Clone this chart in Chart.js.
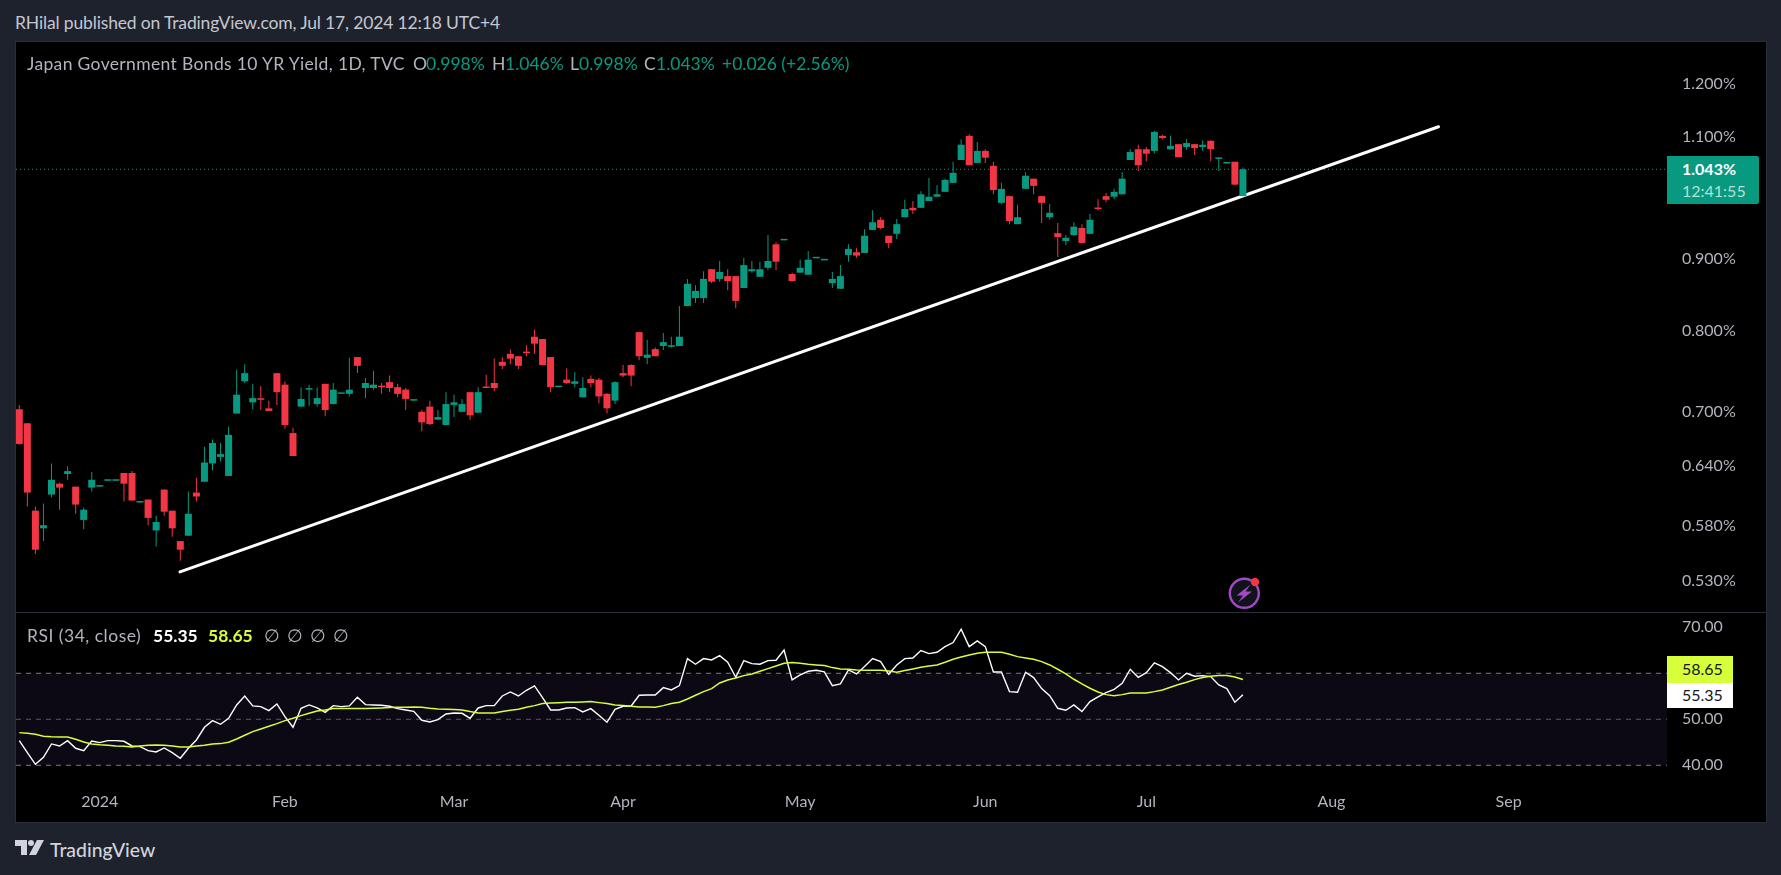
<!DOCTYPE html>
<html>
<head>
<meta charset="utf-8">
<title>Japan Government Bonds 10 YR Yield</title>
<script src="https://cdn.jsdelivr.net/npm/chart.js@4"></script>
<style>
html, body { margin: 0; padding: 0; width: 1781px; height: 875px; overflow: hidden; background: #1e222d; font-family: Lato, sans-serif; }
canvas { position: absolute; display: block; }
#frame { position: absolute; left: 15px; top: 41px; width: 1750px; height: 780px; border: 1px solid #2a2e39; background: #000; }
#divider { position: absolute; left: 16px; top: 612px; width: 1750px; height: 1px; background: #2a2e39; z-index: 3; }
.t { position: absolute; white-space: nowrap; line-height: 20px; font-size: 17.5px; color: #b2b5be; z-index: 4; }
.n { font-size: 16px; }
.g { color: #089981; }
.badge { position: absolute; z-index: 4; }
</style>
</head>
<body>
<div class="t" style="left:15px;top:13px;color:#c4c7cf;letter-spacing:-0.15px" id="title">RHilal published on TradingView.com, Jul 17, 2024 12:18 UTC+4</div>
<div id="frame"></div>
<canvas id="priceChart" width="1750" height="570" style="left:16px;top:42px"></canvas>
<div id="divider"></div>
<canvas id="rsiChart" width="1750" height="208" style="left:16px;top:613px"></canvas>

<div class="t" style="left:27px;top:54px;letter-spacing:0.35px">Japan Government Bonds 10 YR Yield, 1D, TVC</div>
<div class="t" style="left:413px;top:54px">O</div><div class="t g" style="left:426px;top:54px">0.998%</div>
<div class="t" style="left:492px;top:54px">H</div><div class="t g" style="left:505px;top:54px">1.046%</div>
<div class="t" style="left:570px;top:54px">L</div><div class="t g" style="left:579px;top:54px">0.998%</div>
<div class="t" style="left:644px;top:54px">C</div><div class="t g" style="left:656px;top:54px">1.043%</div>
<div class="t g" style="left:722px;top:54px">+0.026 (+2.56%)</div>

<div class="t" style="left:27px;top:626px;letter-spacing:0.5px">RSI (34, close)</div>
<div class="t" style="left:153px;top:626px;color:#fff;font-weight:700">55.35</div>
<div class="t" style="left:208px;top:626px;color:#d7ff3a;font-weight:700">58.65</div>
<div class="t" style="left:264px;top:626px">∅</div>
<div class="t" style="left:287px;top:626px">∅</div>
<div class="t" style="left:310px;top:626px">∅</div>
<div class="t" style="left:333px;top:626px">∅</div>

<div class="badge" style="left:1667px;top:156px;width:92px;height:48px;background:#089981;border-radius:0 2px 2px 0"></div>
<div class="t n" style="left:1682px;top:159px;color:#fff;font-weight:700">1.043%</div>
<div class="t n" style="left:1682px;top:181px;color:#b5e0d6">12:41:55</div>
<div class="badge" style="left:1667px;top:656px;width:66px;height:27px;background:#d7ff3a"></div>
<div class="t n" style="left:1682px;top:659px;color:#131722">58.65</div>
<div class="badge" style="left:1667px;top:683px;width:66px;height:25px;background:#fff"></div>
<div class="t n" style="left:1682px;top:685px;color:#131722">55.35</div>

<svg style="position:absolute;left:1225px;top:574px;z-index:4" width="40" height="40" viewBox="0 0 40 40">
  <circle cx="19.3" cy="19.3" r="14.5" fill="#11131a" stroke="#a349c4" stroke-width="2.4"/>
  <path d="M25.5 10.5 L11.5 21.5 L18 21.5 L13 28.5 L27 17.5 L20.5 17.5 Z" fill="#a349c4"/>
  <circle cx="30" cy="8" r="4.2" fill="#f23645"/>
</svg>
<svg style="position:absolute;left:15px;top:840px;z-index:4" width="30" height="15" viewBox="0 0 30 15">
  <path d="M0 0 H12 V15 H6 V6 H0 Z" fill="#d1d4dc"/><circle cx="16" cy="3" r="3" fill="#d1d4dc"/>
  <path d="M22 0 H29 L21 15 H14 Z" fill="#d1d4dc"/>
</svg>
<div class="t" style="left:50px;top:838px;font-size:19.4px;line-height:24px;color:#d1d4dc;font-weight:500">TradingView</div>

<script>
const opens = [.703,.687,.595,.578,.611,.622,.632,.619,.586,.618,.619,.625,.625,.633,.633,.603,.606,.576,.616,.595,.566,.571,.613,.624,.643,.650,.630,.698,.736,.711,.715,.704,.746,.732,.676,.706,.726,.709,.733,.709,.721,.721,.766,.728,.728,.730,.735,.729,.726,.713,.700,.706,.691,
  .685,.708,.700,.723,.699,.729,.734,.760,.770,.767,.772,.792,.789,.766,.729,.738,.733,.717,.739,.738,.721,.713,.746,.756,.798,.765,.776,.780,.779,.780,.833,.844,.844,.885,.871,.875,.875,.858,.882,.874,
  .887,.922,.928,.878,.880,.877,.901,.898,.865,.857,.906,.910,.909,.944,.960,.935,.938,.964,.979,.979,.990,.997,1.005,1.020,1.059,1.102,1.054,1.075,1.049,.987,.998,.953,1.010,1.027,.998,.964,.939,.927,.936,.947,.938,.979,.998,.997,1.001,1.059,1.078,1.078,1.075,1.102,1.078,1.087,1.082,1.087,1.082,1.093,1.061,1.053,1.056,.998];
const highs = [.708,.687,.599,.602,.643,.623,.640,.619,.598,.634,.620,.626,.626,.633,.635,.604,.606,.590,.616,.595,.566,.614,.628,.661,.669,.665,.683,.750,.757,.733,.730,.713,.746,.736,.682,.729,.732,.729,.733,.734,.722,.765,.766,.740,.749,.734,.743,.733,.728,.714,.702,.713,.702,
  .723,.720,.715,.723,.729,.744,.764,.766,.776,.767,.781,.801,.789,.766,.730,.752,.747,.741,.743,.740,.722,.736,.756,.757,.798,.788,.778,.797,.792,.833,.871,.862,.882,.885,.897,.885,.875,.902,.897,.896,
  .936,.925,.929,.880,.899,.912,.902,.899,.881,.891,.922,.916,.945,.975,.964,.935,.961,.992,.990,1.006,1.028,1.016,1.027,1.056,1.096,1.105,1.091,1.078,1.056,1.020,.998,.984,1.038,1.027,.998,.985,.955,.936,.956,.953,.969,.993,1.003,1.010,1.038,1.078,1.086,1.082,1.111,1.104,1.102,1.087,1.096,1.087,1.094,1.094,1.064,1.054,1.056,1.046];
const lows = [.663,.599,.554,.566,.608,.596,.626,.592,.577,.614,.619,.625,.625,.604,.605,.603,.581,.561,.590,.570,.548,.571,.604,.624,.636,.645,.630,.698,.734,.703,.702,.701,.708,.681,.651,.706,.707,.706,.695,.709,.721,.718,.746,.716,.726,.721,.723,.717,.702,.713,.678,.685,.691,
  .685,.694,.700,.691,.699,.728,.724,.751,.757,.751,.767,.770,.756,.723,.729,.733,.729,.717,.729,.710,.698,.709,.741,.730,.762,.757,.767,.775,.778,.780,.833,.837,.837,.865,.867,.855,.830,.858,.880,.874,
  .884,.884,.928,.867,.880,.877,.901,.898,.858,.857,.896,.902,.909,.944,.945,.916,.930,.964,.969,.979,.990,.997,1.005,1.020,1.059,1.050,1.054,1.054,1.001,.985,.953,.953,1.010,1.001,.955,.960,.903,.921,.935,.924,.938,.975,.988,.993,1.001,1.059,1.040,1.057,1.071,1.096,1.077,1.064,1.077,1.068,1.075,1.057,1.040,1.053,1.016,.998];
const closes = [.664,.613,.558,.581,.626,.618,.635,.601,.596,.626,.620,.626,.626,.622,.605,.604,.588,.584,.594,.578,.558,.592,.609,.644,.665,.653,.674,.720,.746,.716,.714,.701,.723,.685,.651,.715,.727,.716,.702,.726,.722,.726,.755,.734,.732,.729,.728,.721,.715,.714,.688,.686,.694,
  .709,.711,.709,.696,.723,.728,.728,.755,.764,.755,.771,.783,.756,.729,.730,.734,.736,.728,.734,.718,.704,.735,.743,.743,.767,.769,.767,.785,.781,.792,.864,.854,.871,.867,.881,.868,.840,.891,.885,.885,
  .897,.896,.929,.868,.887,.899,.902,.899,.871,.875,.915,.905,.935,.956,.947,.924,.953,.977,.975,1.001,.997,1.001,1.025,1.037,1.086,1.050,1.075,1.063,1.008,1.010,.958,.964,1.032,1.015,.987,.971,.933,.932,.949,.924,.960,.977,.992,1.005,1.027,1.073,1.050,1.070,1.109,1.098,1.084,1.064,1.089,1.080,1.086,1.078,1.063,1.054,1.017,1.043];

const rsiValues = [45.36,42.75,40.22,41.74,44.64,44.20,45.36,43.70,43.19,45.29,44.93,45.36,45.36,45.22,44.20,44.06,43.19,42.90,43.77,42.75,41.52,43.70,45.51,48.26,49.71,48.91,50.22,53.12,55.07,52.90,52.75,51.88,53.33,50.58,48.26,52.39,53.12,52.46,51.52,52.97,52.75,52.90,54.78,53.19,53.12,53.04,52.83,52.32,52.03,51.74,49.78,49.42,49.93,51.16,51.38,51.30,50.22,52.46,52.97,52.97,55.07,55.94,55.07,56.30,57.25,54.71,52.03,52.03,52.46,52.54,51.59,52.32,50.87,49.35,52.17,52.83,52.90,55.22,
  55.29,55.29,56.88,56.38,57.32,63.19,61.96,63.19,62.90,63.84,62.39,59.13,62.75,62.10,61.96,62.75,62.83,65.07,58.55,59.64,60.43,60.65,60.29,57.32,57.68,60.72,59.86,61.45,63.19,62.54,59.78,61.81,63.19,63.33,64.93,64.28,64.57,65.80,66.67,69.57,65.80,67.03,65.80,60.29,60.29,56.01,55.87,60.22,59.06,56.67,55.14,52.39,51.96,53.12,51.67,53.84,54.86,55.80,56.52,57.83,60.87,59.13,60.14,62.25,61.45,60.14,58.55,60.00,59.35,59.49,59.28,57.46,56.67,53.70,55.35];
const rsiMaValues = [47.10,46.96,46.74,46.30,46.20,46.16,46.16,45.65,45.07,44.64,44.46,44.35,44.20,44.13,43.99,44.17,44.35,44.42,44.35,44.20,43.99,43.99,44.20,44.35,44.64,44.71,45.00,45.72,46.52,47.32,47.90,48.48,49.06,49.71,50.22,50.80,51.30,51.81,52.03,52.32,52.32,52.32,52.32,52.32,52.39,52.46,52.54,52.61,52.61,52.68,52.61,52.39,52.25,52.17,52.10,52.03,51.67,51.38,51.38,51.38,51.67,51.96,52.17,52.61,52.97,53.41,53.55,53.62,53.70,53.70,53.77,53.84,53.62,53.41,53.12,52.97,52.83,52.68,
  52.68,52.61,52.97,53.41,53.70,54.42,55.22,56.01,56.67,57.90,58.55,58.99,59.49,59.86,60.43,61.01,61.59,62.17,62.32,62.17,61.96,61.81,61.67,61.23,60.94,60.87,60.72,60.65,60.65,60.65,60.51,60.22,60.58,60.94,61.30,61.59,61.81,62.39,63.04,63.55,63.99,64.35,64.57,64.57,64.57,64.13,63.62,63.33,63.04,62.54,61.81,60.87,59.86,58.70,57.68,56.74,55.94,55.36,55.14,55.36,55.72,55.72,55.72,56.01,56.38,56.96,57.54,58.04,58.62,59.06,59.35,59.49,59.49,59.20,58.65];

const priceTicks = [1.2, 1.1, 0.9, 0.8, 0.7, 0.64, 0.58, 0.53];
const rsiTicks = [70, 50, 40];
const rsiBands = [60, 50, 40];
const monthTicks = [10, 33, 54, 75, 97, 120, 140, 163, 185];
const monthLabels = ['2024', 'Feb', 'Mar', 'Apr', 'May', 'Jun', 'Jul', 'Aug', 'Sep'];
const trendIndex = [19.96, 176.3];
const trendPrice = [0.538, 1.1186];
const lastPrice = 1.043;

const greenColor = '#089981';
const redColor = '#f23645';
const xMin = -0.41;
const xMax = 204.68;
const axisFont = { family: 'Lato, sans-serif', size: 16 };

const barColors = closes.map((c, i) => (c >= opens[i] ? greenColor : redColor));

function fixAxis(scale) {
    scale.width = 99;
    scale.paddingTop = 0;
    scale.paddingBottom = 0;
}

function flatLine(value) {
    return [{ x: xMin, y: value }, { x: xMax, y: value }];
}

const noGrid = { display: false, drawTicks: false };

new Chart(document.getElementById('priceChart'), {
    type: 'bar',
    data: {
        datasets: [
            {
                type: 'line',
                data: flatLine(lastPrice),
                borderColor: greenColor,
                borderWidth: 1,
                borderDash: [1, 3],
                pointRadius: 0,
                order: 4,
            },
            {
                type: 'line',
                data: trendIndex.map((x, i) => ({ x: x, y: trendPrice[i] })),
                borderColor: '#ffffff',
                borderWidth: 3,
                borderCapStyle: 'round',
                pointRadius: 0,
                order: 3,
            },
            {
                data: highs.map((h, i) => ({ x: i, y: [lows[i], h] })),
                backgroundColor: barColors,
                barThickness: 1,
                order: 2,
            },
            {
                data: opens.map((o, i) => ({ x: i, y: [o, closes[i]] })),
                backgroundColor: barColors,
                barThickness: 7,
                minBarLength: 1.5,
                order: 1,
            },
        ],
    },
    options: {
        responsive: false,
        animation: false,
        events: [],
        grouped: false,
        inflateAmount: 0,
        layout: { padding: 0 },
        plugins: { legend: { display: false }, tooltip: { enabled: false } },
        scales: {
            x: { type: 'linear', min: xMin, max: xMax, display: false, grid: noGrid, offset: false },
            y: {
                type: 'logarithmic',
                position: 'right',
                min: 0.5037,
                max: 1.2858,
                bounds: 'data',
                grid: noGrid,
                border: { display: false },
                afterBuildTicks: (scale) => { scale.ticks = priceTicks.map((v) => ({ value: v })); },
                afterFit: fixAxis,
                ticks: {
                    autoSkip: false,
                    maxRotation: 0,
                    padding: 15,
                    crossAlign: 'near',
                    color: '#b2b5be',
                    font: axisFont,
                    callback: (v) => Number(v).toFixed(3) + '%',
                },
            },
        },
    },
});

new Chart(document.getElementById('rsiChart'), {
    type: 'line',
    data: {
        datasets: [
            {
                data: flatLine(rsiBands[0]),
                borderColor: '#787b86',
                borderWidth: 1,
                borderDash: [5, 5],
                pointRadius: 0,
                fill: { value: rsiBands[2] },
                backgroundColor: 'rgba(126, 87, 194, 0.1)',
                order: 5,
            },
            {
                data: flatLine(rsiBands[1]),
                borderColor: 'rgba(120, 123, 134, 0.7)',
                borderWidth: 1,
                borderDash: [5, 5],
                pointRadius: 0,
                order: 4,
            },
            {
                data: flatLine(rsiBands[2]),
                borderColor: '#787b86',
                borderWidth: 1,
                borderDash: [5, 5],
                pointRadius: 0,
                order: 3,
            },
            {
                data: rsiValues.map((v, i) => ({ x: i, y: v })),
                borderColor: '#ffffff',
                borderWidth: 1.4,
                pointRadius: 0,
                tension: 0,
                order: 2,
            },
            {
                data: rsiMaValues.map((v, i) => ({ x: i, y: v })),
                borderColor: '#d7ff3a',
                borderWidth: 1.5,
                pointRadius: 0,
                tension: 0,
                order: 1,
            },
        ],
    },
    options: {
        responsive: false,
        animation: false,
        events: [],
        layout: { padding: 0 },
        plugins: { legend: { display: false }, tooltip: { enabled: false } },
        scales: {
            x: {
                type: 'linear',
                min: xMin,
                max: xMax,
                grid: noGrid,
                border: { display: false },
                afterBuildTicks: (scale) => { scale.ticks = monthTicks.map((v) => ({ value: v })); },
                afterFit: (scale) => { scale.height = 31; scale.paddingLeft = 0; scale.paddingRight = 0; },
                ticks: {
                    autoSkip: false,
                    maxRotation: 0,
                    padding: 2,
                    color: '#b2b5be',
                    font: axisFont,
                    callback: (v) => monthLabels[monthTicks.indexOf(v)],
                },
            },
            y: {
                type: 'linear',
                position: 'right',
                min: 34.63,
                max: 73.1,
                grid: noGrid,
                border: { display: false },
                afterBuildTicks: (scale) => { scale.ticks = rsiTicks.map((v) => ({ value: v })); },
                afterFit: fixAxis,
                ticks: {
                    autoSkip: false,
                    maxRotation: 0,
                    padding: 15,
                    crossAlign: 'near',
                    color: '#b2b5be',
                    font: axisFont,
                    callback: (v) => Number(v).toFixed(2),
                },
            },
        },
    },
});
</script>
</body>
</html>
